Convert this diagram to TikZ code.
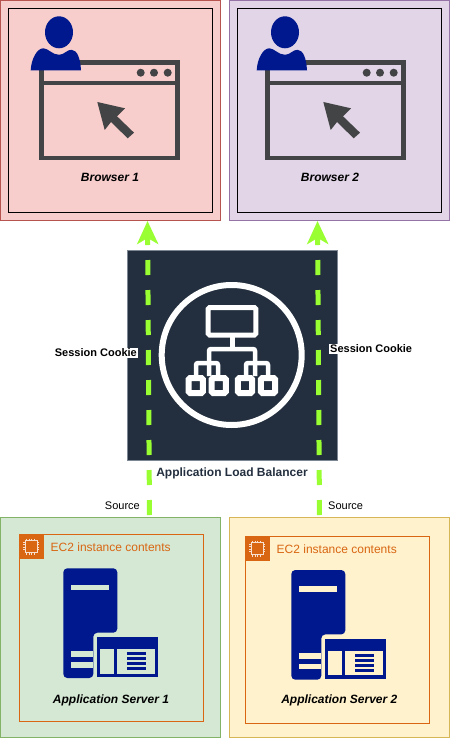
\documentclass[tikz,border=0pt]{standalone}
\usepackage{fontspec}
\setmainfont{Liberation Sans}
\usetikzlibrary{arrows.meta}
\definecolor{albnavy}{HTML}{232F3E}
\definecolor{iconblue}{HTML}{00188D}
\definecolor{wingray}{HTML}{434445}
\definecolor{ecorange}{HTML}{D86613}
\definecolor{cookiegreen}{HTML}{99FF33}
\definecolor{redfill}{HTML}{F8CECC}
\definecolor{redline}{HTML}{B85450}
\definecolor{purplefill}{HTML}{E1D5E7}
\definecolor{purpleline}{HTML}{9673A6}
\definecolor{greenfill}{HTML}{D5E8D4}
\definecolor{greenline}{HTML}{82B366}
\definecolor{yellowfill}{HTML}{FFF2CC}
\definecolor{yellowline}{HTML}{D6B656}
\definecolor{albline}{HTML}{7D8794}
\tikzset{
  zonebox/.style={draw, line width=1pt, anchor=north west, inner sep=0pt,
    minimum width=220pt, minimum height=220pt},
  innerbox/.style={draw=black, line width=1pt, anchor=north west, inner sep=0pt,
    minimum width=204pt, minimum height=204pt},
  ecbox/.style={draw=ecorange, line width=1pt, anchor=north west, inner sep=0pt,
    minimum width=184.5pt, minimum height=186.5pt},
  namelabel/.style={font=\fontsize{12}{14}\selectfont\bfseries\itshape, inner sep=0pt},
  eclabel/.style={font=\fontsize{12}{14}\selectfont, text=ecorange, anchor=west, inner sep=0pt},
  smalllabel/.style={font=\fontsize{11}{13}\selectfont, inner sep=1pt, fill=white},
  cookieline/.style={-{Stealth[length=23pt,width=21pt,inset=6pt]}, cookiegreen, line width=5pt,
    dash pattern=on 15pt off 15pt, dash phase=28pt},
  pics/websession/.style={code={
      % user sits on the window corner
      \draw[wingray, line width=4.5pt] (2.2,2.2) rectangle (138.2,97.7);
      \draw[wingray, line width=4.5pt] (0,22.7) -- (140.4,22.7);
      \foreach \dotx in {101.4,114.7,128.4}
        \fill[wingray] (\dotx,12.4) circle (4pt);
      \fill[wingray] (58,41.7) -- (85.7,48) -- (77.7,56) -- (94.7,72.4) -- (88.4,78)
        -- (71.7,61.7) -- (65.4,69.7) -- cycle;
      \fill[iconblue] (19.7,-28) ellipse (14pt and 16pt);
      \fill[iconblue] (-8.6,10) .. controls (-8,-2) and (-2,-12) .. (4,-12)
        .. controls (9,-12) and (13,-5.5) .. (19.7,-5.5)
        .. controls (25,-5.5) and (28,-11) .. (32.4,-10.5)
        .. controls (38,-10) and (41,-2) .. (41.7,10) -- cycle;
  }},
  pics/appstack/.style={code={
      \fill[iconblue, rounded corners=4pt] (0,109.7) -- (0,0) -- (54,0) -- (54,64.4) -- (30,64.4) -- (30,109.7) -- cycle;
      \fill[#1] (8,16.4) rectangle (45.7,21.7);
      \fill[#1] (8,83) rectangle (30,88.7);
      \fill[#1] (8,94) rectangle (30,99.4);
      \fill[iconblue] (33.7,68.7) rectangle (94.4,109);
      \fill[#1] (36.7,80.7) rectangle (50.7,105.4);
      \fill[#1] (54,80.7) rectangle (91.4,105.4);
      \foreach \liney in {83.7,88.7,93.7,98.7}
        \fill[iconblue] (64,\liney) rectangle (82.7,\liney+3.3);
  }},
  pics/ectag/.style={code={
      \fill[ecorange] (0,0) rectangle (25,25);
      \draw[white!80!ecorange, line width=.8pt] (6.5,6.5) rectangle (18.5,18.5);
      \foreach \pin in {8,10.5,...,17.5} {
        \draw[white!80!ecorange, line width=.5pt] (\pin,4.5) -- (\pin,6.5) (\pin,18.5) -- (\pin,20.5);
        \draw[white!80!ecorange, line width=.5pt] (4.5,\pin) -- (6.5,\pin) (18.5,\pin) -- (20.5,\pin);
      }
  }},
}
\begin{document}
\begin{tikzpicture}[x=1pt, y=-1pt]
  \useasboundingbox (0,0) rectangle (450,738);

  % top row
  \node[zonebox, draw=redline, fill=redfill] (browserA) at (0,0) {};
  \node[zonebox, draw=purpleline, fill=purplefill] (browserB) at (229,0) {};
  \node[innerbox] (frameA) at (8.3,8.3) {};
  \node[innerbox] (frameB) at (237.3,8.3) {};
  \pic at (39.3,60.3) {websession};
  \pic at (265.3,60.3) {websession};
  \node[namelabel] (nameA) at (110,177.5) {Browser 1};
  \node[namelabel] (nameB) at (330,177.5) {Browser 2};

  % balancer
  \node[draw=albline, fill=albnavy, line width=.6pt, inner sep=0pt,
    minimum width=210pt, minimum height=210pt, anchor=north west] (alb) at (127,250) {};
  \draw[white, line width=6pt] (231.7,355) circle (70pt);
  \draw[white, line width=5pt, rounded corners=1.5pt] (208.2,307.5) rectangle (255.8,335);
  \draw[white, line width=5pt] (232,335) -- (232,349);
  \draw[white, line width=4.5pt, rounded corners=2pt] (209,376) -- (209,349) -- (255,349) -- (255,376);
  \draw[white, line width=4.5pt, rounded corners=2pt] (196,376) -- (196,363) -- (218,363) -- (218,376);
  \draw[white, line width=4.5pt, rounded corners=2pt] (246,376) -- (246,363) -- (268,363) -- (268,376);
  \foreach \boxx in {195.7,218.7,245,268}
    \draw[white, fill=albnavy, line width=6pt, rounded corners=1.5pt] (\boxx-7.2,378) rectangle (\boxx+7.2,393);
  \node[font=\fontsize{12}{14}\selectfont\bfseries, text=albnavy, inner sep=0pt] (albname) at (232,473.7) {Application Load Balancer};

  % bottom row
  \node[zonebox, draw=greenline, fill=greenfill] (serverA) at (0,517) {};
  \node[zonebox, draw=yellowline, fill=yellowfill] (serverB) at (229,517) {};
  \node[ecbox] (ecA) at (18.5,534) {};
  \node[ecbox] (ecB) at (244.5,536) {};
  \pic at (18.5,534) {ectag};
  \pic at (244.5,536) {ectag};
  \node[eclabel] (eclabelA) at (50.5,547.7) {EC2 instance contents};
  \node[eclabel] (eclabelB) at (276.5,549.7) {EC2 instance contents};
  \pic at (63.3,568.3) {appstack=greenfill};
  \pic at (291.3,570) {appstack=yellowfill};
  \node[namelabel] (appnameA) at (111,700) {Application Server 1};
  \node[namelabel] (appnameB) at (339.3,700) {Application Server 2};

  % session path
  \draw[cookieline] ([xshift=39pt]serverA.north) -- ([xshift=37pt]browserA.south);
  \draw[cookieline] ([xshift=-20pt]serverB.north) -- ([xshift=-22pt]browserB.south);
  \node[smalllabel, anchor=east, font=\fontsize{11}{13}\selectfont\bfseries] (cookieA) at (138,353) {Session Cookie};
  \node[smalllabel, anchor=west, font=\fontsize{11}{13}\selectfont\bfseries] (cookieB) at (329,349) {Session Cookie};
  \node[smalllabel, anchor=east] (sourceA) at (141,506) {Source};
  \node[smalllabel, anchor=west] (sourceB) at (327,506) {Source};
\end{tikzpicture}
\end{document}
